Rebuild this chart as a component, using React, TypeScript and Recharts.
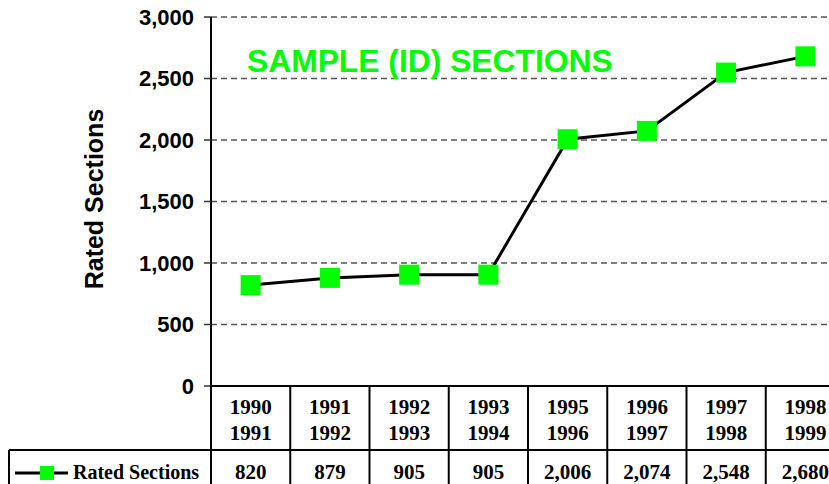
import { LineChart, Line, XAxis, YAxis, CartesianGrid } from "recharts";

// data
const periods = ["1990-1991", "1991-1992", "1992-1993", "1993-1994", "1995-1996", "1996-1997", "1997-1998", "1998-1999"];
const startYears = ["1990", "1991", "1992", "1993", "1995", "1996", "1997", "1998"];
const endYears = ["1991", "1992", "1993", "1994", "1996", "1997", "1998", "1999"];
const ratedSections = [820, 879, 905, 905, 2006, 2074, 2548, 2680];
const yTicks = [0, 500, 1000, 1500, 2000, 2500, 3000];

const data = periods.map((p, i) => ({ period: p, ratedSections: ratedSections[i] }));

// layout
const CHART_W = 845;
const CHART_H = 484;
const Y_AXIS_W = 211;
const X_AXIS_H = 98;
const BAND = (CHART_W - Y_AXIS_W) / periods.length;
const AXIS_Y = CHART_H - X_AXIS_H;
const ROW_SPLIT = 450;

const serif = "'Liberation Serif', 'Times New Roman', serif";
const sans = "'Liberation Sans', Arial, sans-serif";
const green = "#00ff00";

const fmt = (v: number) => v.toLocaleString("en-US");

// x axis ticks draw the data table cells
const TableTick = (props: any) => {
  const { x, index } = props;
  const half = BAND / 2;
  const txt = { fontFamily: serif, fontWeight: 700, fontSize: 21, fill: "#000", textAnchor: "middle" as const, dominantBaseline: "central" as const };
  return (
    <g>
      {index === 0 && (
        <g>
          <line x1={x - half} y1={AXIS_Y} x2={x - half} y2={CHART_H} stroke="#000" strokeWidth={2} />
          <line x1={9} y1={ROW_SPLIT} x2={CHART_W} y2={ROW_SPLIT} stroke="#000" strokeWidth={2} />
          <line x1={9} y1={ROW_SPLIT} x2={9} y2={CHART_H} stroke="#000" strokeWidth={2} />
          <line x1={15} y1={473} x2={68} y2={473} stroke="#000" strokeWidth={3} />
          <rect x={40} y={466} width={14} height={14} fill={green} />
          <text x={73} y={472} fontFamily={serif} fontWeight={700} fontSize={20} fill="#000" dominantBaseline="central">
            Rated Sections
          </text>
        </g>
      )}
      <line x1={x + half} y1={AXIS_Y} x2={x + half} y2={CHART_H} stroke="#000" strokeWidth={2} />
      <text x={x} y={407} {...txt}>{startYears[index]}</text>
      <text x={x} y={433} {...txt}>{endYears[index]}</text>
      <text x={x} y={472} {...txt}>{fmt(ratedSections[index])}</text>
    </g>
  );
};

const SquareDot = (props: any) => {
  const { cx, cy, index } = props;
  if (cx == null || cy == null) return null;
  return <rect key={index} x={cx - 10} y={cy - 10} width={20} height={20} fill={green} />;
};

const YLabel = () => (
  <text
    x={94}
    y={199}
    transform="rotate(-90, 94, 199)"
    textAnchor="middle"
    dominantBaseline="central"
    fontFamily={sans}
    fontWeight={700}
    fontSize={25}
    fill="#000"
  >
    Rated Sections
  </text>
);

export default function App() {
  return (
    <div style={{ position: "absolute", left: 0, top: 0, width: 829, height: 484, overflow: "hidden", background: "#fff" }}>
      <LineChart width={CHART_W} height={CHART_H} data={data} margin={{ top: 17, right: 0, bottom: 0, left: 0 }}>
        <CartesianGrid vertical={false} strokeDasharray="6 4" stroke="#555" strokeWidth={1.5} />
        <XAxis
          dataKey="period"
          interval={0}
          height={X_AXIS_H}
          padding={{ left: BAND / 2, right: BAND / 2 }}
          axisLine={{ stroke: "#000", strokeWidth: 2 }}
          tickLine={false}
          tick={<TableTick />}
        />
        <YAxis
          width={Y_AXIS_W}
          domain={[0, 3000]}
          ticks={yTicks}
          tickFormatter={fmt}
          axisLine={{ stroke: "#000", strokeWidth: 2 }}
          tickLine={{ stroke: "#333", strokeWidth: 1.5 }}
          tickSize={7}
          tickMargin={10}
          tick={{ fontFamily: sans, fontWeight: 700, fontSize: 22, fill: "#000" }}
          label={<YLabel />}
        />
        <Line
          type="linear"
          dataKey="ratedSections"
          stroke="#000"
          strokeWidth={3}
          dot={<SquareDot />}
          isAnimationActive={false}
        />
      </LineChart>
      <div
        style={{
          position: "absolute",
          left: 247,
          top: 42,
          fontFamily: sans,
          fontWeight: 700,
          fontSize: 31.8,
          color: green,
          whiteSpace: "nowrap",
          lineHeight: "38px",
        }}
      >
        SAMPLE (ID) SECTIONS
      </div>
    </div>
  );
}
